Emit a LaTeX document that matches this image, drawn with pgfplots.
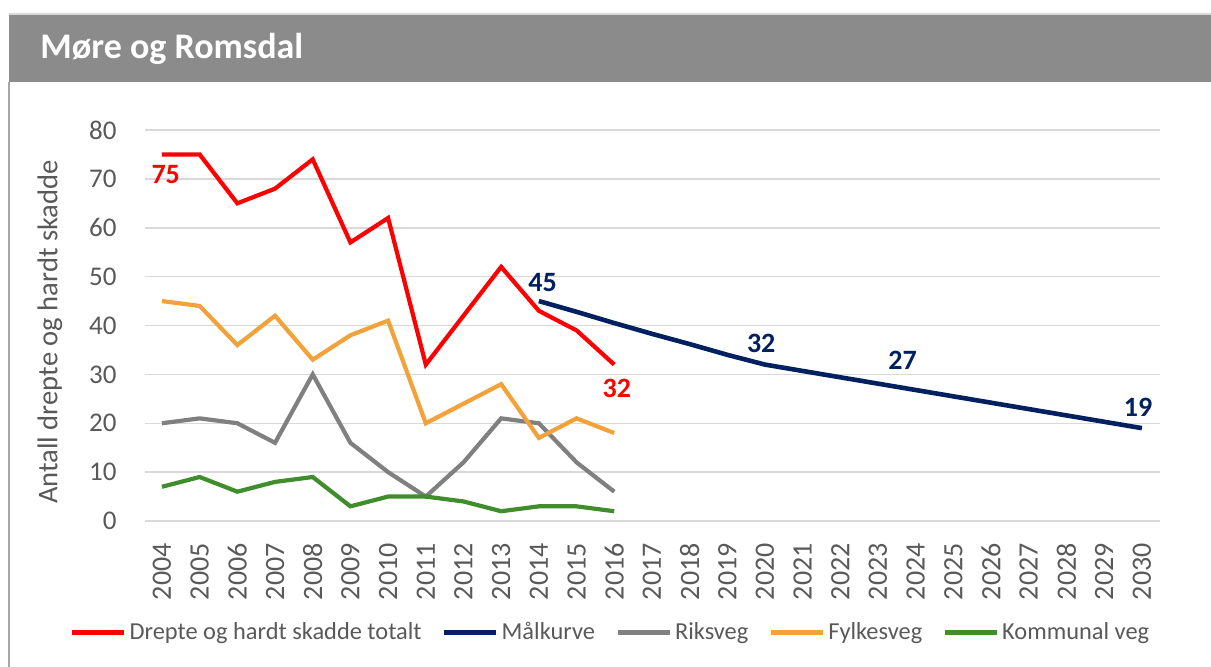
\documentclass[border=0pt]{standalone}
\usepackage{pgfplots}
\pgfplotsset{compat=1.18}
\usepackage{fontspec}
\setmainfont{Carlito}
\definecolor{cred}{HTML}{FF0000}
\definecolor{cnavy}{HTML}{002060}
\definecolor{cgrey}{HTML}{808080}
\definecolor{corange}{HTML}{F3A23A}
\definecolor{cgreen}{HTML}{3F8E2B}
\definecolor{ctext}{HTML}{595959}
\definecolor{cgrid}{HTML}{D9D9D9}
\definecolor{cbar}{HTML}{8B8B8B}
\begin{document}
\begin{tikzpicture}[x=0.5pt,y=0.5pt]
\path[use as bounding box] (0,0) rectangle (1211,666);
% frame
\fill[cbar] (9,666-14) rectangle (1220,666-82);
\draw[color=black!15, line width=1pt] (9,666-14) -- (1220,666-14);
\draw[color=black!35, line width=1pt] (9,666-82) -- (9,-10);
\node[anchor=base west, inner sep=0pt, text=white, font=\fontsize{18pt}{20pt}\selectfont\bfseries] at (40,666-58) {Møre og Romsdal};
\node[rotate=90, inner sep=0pt, text=ctext, font=\fontsize{14.3pt}{16pt}\selectfont] at (50,666-332) {Antall drepte og hardt skadde};
\begin{axis}[
  at={(72.5pt,72.5pt)}, anchor=south west,
  scale only axis, width=507.5pt, height=195.5pt,
  xmin=2003.55, xmax=2030.48, ymin=0, ymax=80,
  axis line style={draw=none},
  xtick={2004,...,2030}, ytick={0,10,...,80},
  major tick length=0pt,
  ymajorgrids, grid style={cgrid, line width=0.75pt},
  xticklabel style={rotate=90, anchor=east, inner sep=0pt, text=ctext, font=\fontsize{14pt}{16pt}\selectfont},
  yticklabel style={anchor=east, inner sep=0pt, text=ctext, font=\fontsize{13.5pt}{16pt}\selectfont},
  xticklabel shift=11pt, yticklabel shift=14pt,
  /pgf/number format/assume math mode=true,
  xticklabel={\pgfmathprintnumber[1000 sep={}]{\tick}},
  legend columns=5,
  legend style={at={(0.459,-0.284)}, anchor=center, draw=none, fill=none,
    font=\fontsize{12.2pt}{14pt}\selectfont, text=ctext,
    /tikz/every even column/.append style={column sep=8.5pt},
    nodes={inner sep=1.5pt}},
  legend image code/.code={\draw[#1, line width=2.5pt] (0pt,0pt) -- (26pt,0pt);},
  clip=false,
]
\addplot[cred, line width=2.1pt] coordinates {(2004,75)(2005,75)(2006,65)(2007,68)(2008,74)(2009,57)(2010,62)(2011,32)(2012,42)(2013,52)(2014,43)(2015,39)(2016,32)};
\addlegendentry{Drepte og hardt skadde totalt}
\addplot[cnavy, line width=2.3pt] coordinates {(2014,45)(2015,42.8)(2016,40.5)(2017,38.3)(2018,36.2)(2019,34)(2020,32)(2021,30.7)(2022,29.4)(2023,28.1)(2024,26.8)(2025,25.5)(2026,24.2)(2027,22.9)(2028,21.6)(2029,20.3)(2030,19)};
\addlegendentry{Målkurve}
\addplot[cgrey, line width=2.1pt] coordinates {(2004,20)(2005,21)(2006,20)(2007,16)(2008,30)(2009,16)(2010,10)(2011,5)(2012,12)(2013,21)(2014,20)(2015,12)(2016,6)};
\addlegendentry{Riksveg}
\addplot[corange, line width=2.1pt] coordinates {(2004,45)(2005,44)(2006,36)(2007,42)(2008,33)(2009,38)(2010,41)(2011,20)(2012,24)(2013,28)(2014,17)(2015,21)(2016,18)};
\addlegendentry{Fylkesveg}
\addplot[cgreen, line width=2.1pt] coordinates {(2004,7)(2005,9)(2006,6)(2007,8)(2008,9)(2009,3)(2010,5)(2011,5)(2012,4)(2013,2)(2014,3)(2015,3)(2016,2)};
\addlegendentry{Kommunal veg}
\node[text=cred, font=\fontsize{14pt}{16pt}\selectfont\bfseries] at (axis cs:2004.1,70.8) {75};
\node[text=cred, font=\fontsize{14pt}{16pt}\selectfont\bfseries] at (axis cs:2016.07,27.2) {32};
\node[text=cnavy, font=\fontsize{14pt}{16pt}\selectfont\bfseries] at (axis cs:2014.1,48.7) {45};
\node[text=cnavy, font=\fontsize{14pt}{16pt}\selectfont\bfseries] at (axis cs:2019.9,36.4) {32};
\node[text=cnavy, font=\fontsize{14pt}{16pt}\selectfont\bfseries] at (axis cs:2023.65,32.9) {27};
\node[text=cnavy, font=\fontsize{14pt}{16pt}\selectfont\bfseries] at (axis cs:2029.9,23.3) {19};
\end{axis}
\end{tikzpicture}
\end{document}
